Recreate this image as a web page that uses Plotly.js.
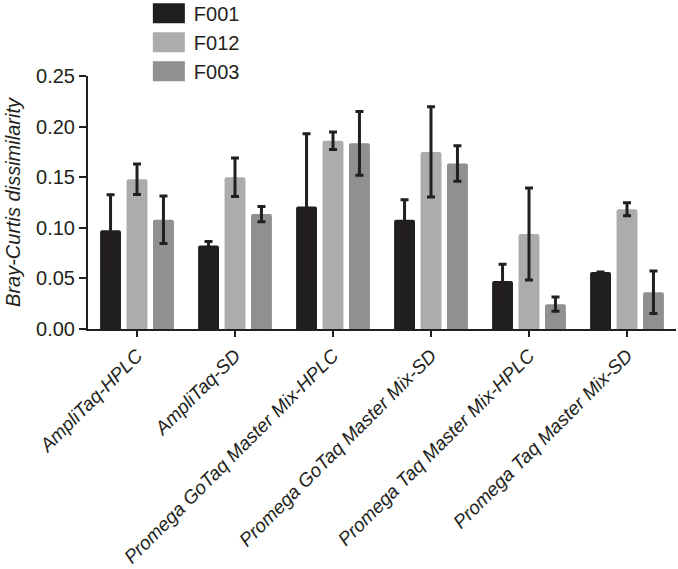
<!DOCTYPE html>
<html><head><meta charset="utf-8">
<script src="https://cdn.plot.ly/plotly-3.0.1.min.js"></script>
<style>html,body{margin:0;padding:0;background:#fff;}#chart{width:678px;height:569px;}</style>
</head><body><div id="chart"></div>
<script>
const categories = ["AmpliTaq-HPLC","AmpliTaq-SD","Promega GoTaq Master Mix-HPLC","Promega GoTaq Master Mix-SD","Promega Taq Master Mix-HPLC","Promega Taq Master Mix-SD"];
const seriesNames = ["F001","F012","F003"];
const f001 = [0.0976, 0.0824, 0.121, 0.108, 0.0474, 0.0563];
const f001Err = [0.035, 0.004, 0.072, 0.0196, 0.0165, null];
const f012 = [0.148, 0.150, 0.186, 0.175, 0.0938, 0.1183];
const f012Err = [0.015, 0.019, 0.0086, 0.0445, 0.0455, 0.0065];
const f003 = [0.108, 0.1136, 0.1835, 0.1635, 0.0245, 0.0363];
const f003Err = [0.0235, 0.0075, 0.0315, 0.0175, 0.007, 0.021];
const yTicks = [0, 0.05, 0.10, 0.15, 0.20, 0.25];
const yTickText = ["0.00","0.05","0.10","0.15","0.20","0.25"];

const colors = ["#211e1f", "#aaacae", "#8e9092"];
const ink = "#231f20";
const vals = [f001, f012, f003];
const errs = [f001Err, f012Err, f003Err];

const data = seriesNames.map((n, i) => ({
  type: "bar", name: n, x: categories, y: vals[i],
  marker: {color: colors[i], cornerradius: 2, line: {width: 0}},
  error_y: {type: "data", array: errs[i], visible: true, color: ink, thickness: 3, width: 4}
}));

const layout = {
  width: 678, height: 569,
  margin: {l: 88, r: 2, t: 67, b: 240},
  paper_bgcolor: "#fff", plot_bgcolor: "#fff",
  font: {family: "Liberation Sans, Arial, sans-serif", color: ink},
  barmode: "group", bargap: 0.19, bargroupgap: 0.21,
  showlegend: true,
  legend: {x: 0.095, xanchor: "left", y: 1.29, yanchor: "top", font: {size: 20, color: ink},
           bgcolor: "rgba(0,0,0,0)", borderwidth: 0, itemwidth: 40, tracegroupgap: 0},
  xaxis: {
    type: "category", range: [-0.5, 5.5], tickangle: -45,
    tickvals: categories, ticktext: categories.map(c => "<i>" + c + "</i>"),
    showline: true, linecolor: ink, linewidth: 2, ticks: "outside", ticklen: 6, tickwidth: 2, tickcolor: ink,
    tickfont: {size: 19, color: ink}, showgrid: false, zeroline: false, automargin: false
  },
  yaxis: {
    range: [0, 0.25], tickvals: yTicks, ticktext: yTickText,
    showline: true, linecolor: ink, linewidth: 2, ticks: "outside", ticklen: 7, tickwidth: 2, tickcolor: ink,
    tickfont: {size: 20, color: ink}, showgrid: false, zeroline: false, automargin: false,
    title: {text: "<i>Bray-Curtis dissimilarity</i>", font: {size: 20, color: ink}, standoff: 10}
  }
};

Plotly.newPlot("chart", data, layout, {displayModeBar: false, staticPlot: true}).then(() => {
  document.querySelectorAll(".legend .legendpoints path").forEach(p => {
    p.setAttribute("d", "M16,10H-16V-10H16Z");
  });
  const lg = document.querySelector(".legend");
  if (lg) {
    const t = lg.getAttribute("transform") || "";
    const m = t.match(/translate\(\s*([-\d.]+)[ ,]+([-\d.]+)\s*\)/);
    if (m) lg.setAttribute("transform", "translate(" + m[1] + "," + (parseFloat(m[2]) - 9) + ")");
  }
});
</script></body></html>
